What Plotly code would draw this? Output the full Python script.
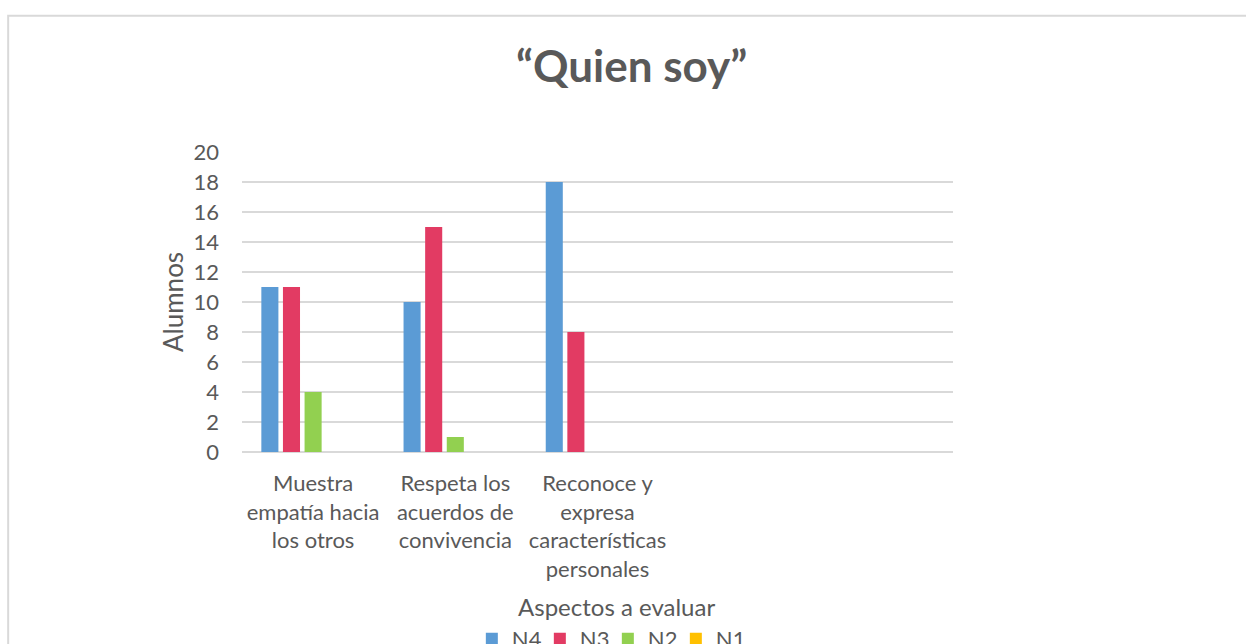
import plotly.graph_objects as go

# Survey results: number of students per achievement level
aspectos = [
    "Muestra<br>empatía hacia<br>los otros",
    "Respeta los<br>acuerdos de<br>convivencia",
    "Reconoce y<br>expresa<br>características<br>personales",
]
niveles = ["N4", "N3", "N2", "N1"]
n4 = [11, 10, 18]
n3 = [11, 15, 8]
n2 = [4, 1, 0]
n1 = [0, 0, 0]
y_ticks = list(range(0, 21, 2))

series = [n4, n3, n2, n1]
colores = ["#5B9BD5", "#E23B63", "#92D050", "#FFC000"]

W, H = 1246, 644
L, R, T, B = 242, 953.5, 151.7, 452.5   # plot area in pixels
n_slots = 5                               # category slots on the axis

def px_x(px):
    return (px - L) / (R - L)

def px_y(py):
    return (B - py) / (B - T)

FONT = "Lato"
GRIS = "#595959"

fig = go.Figure()
bar_w = 0.12
pitch = 0.152
start = -0.364
xs = list(range(len(aspectos)))
for i, (name, vals, col) in enumerate(zip(niveles, series, colores)):
    fig.add_trace(go.Bar(
        x=xs, y=vals, name=name,
        width=bar_w, offset=start + i * pitch,
        marker=dict(color=col, line=dict(width=0)),
    ))

fig.update_layout(
    width=W, height=H,
    margin=dict(l=L, r=W - R, t=T, b=H - B, pad=0, autoexpand=False),
    barmode="overlay",
    paper_bgcolor="white", plot_bgcolor="white",
    font=dict(family=FONT, color=GRIS, size=22),
    showlegend=True,
    legend=dict(
        orientation="h", x=px_x(472), y=px_y(619),
        xanchor="left", yanchor="top",
        font=dict(size=22, color=GRIS), itemwidth=30,
        entrywidth=23, entrywidthmode="pixels",
        bgcolor="rgba(0,0,0,0)",
    ),
)

fig.update_xaxes(
    range=[-0.5, n_slots - 0.5],
    tickmode="array", tickvals=xs, ticktext=aspectos,
    showgrid=False, zeroline=False, showline=False, ticks="",
    tickfont=dict(size=22, color=GRIS), ticklabelstandoff=16,
    fixedrange=True,
)
fig.update_yaxes(
    range=[0, 20], tickmode="array", tickvals=y_ticks,
    showgrid=True, gridcolor="#D9D9D9", gridwidth=1.5,
    zeroline=True, zerolinecolor="#D9D9D9", zerolinewidth=1.5,
    showline=False, ticks="",
    tickfont=dict(size=22, color=GRIS), ticklabelstandoff=22,
    fixedrange=True,
)

# Title and axis titles
fig.add_annotation(
    text="<b>“Quien soy”</b>", xref="paper", yref="paper",
    x=px_x(632), y=px_y(64), xanchor="center", yanchor="middle",
    showarrow=False, font=dict(family=FONT, size=44, color=GRIS),
)
fig.add_annotation(
    text="Alumnos", xref="paper", yref="paper",
    x=px_x(173), y=px_y(302), xanchor="center", yanchor="middle",
    textangle=-90, showarrow=False, font=dict(family=FONT, size=26, color=GRIS),
)
fig.add_annotation(
    text="Aspectos a evaluar", xref="paper", yref="paper",
    x=px_x(617), y=px_y(607), xanchor="center", yanchor="middle",
    showarrow=False, font=dict(family=FONT, size=24, color=GRIS),
)

# Chart frame (left and top edges visible)
fig.add_shape(
    type="path", xref="paper", yref="paper",
    path=f"M {px_x(8)} {px_y(700)} L {px_x(8)} {px_y(15)} L {px_x(1300)} {px_y(15)}",
    line=dict(color="#D9D9D9", width=2),
)

fig.write_html("out.html")
